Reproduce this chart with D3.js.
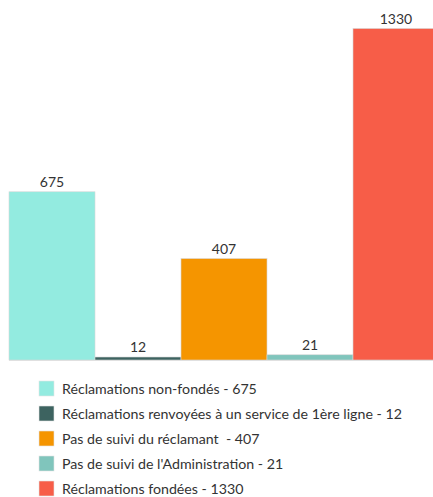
<!DOCTYPE html>
<html>
<head>
<meta charset="utf-8">
<script src="https://cdn.jsdelivr.net/npm/d3@7"></script>
<style>
  body { margin: 0; background: #fff; }
  svg text { font-family: "Source Sans Pro", Lato, "Noto Sans", sans-serif; fill: #333; white-space: pre; }
</style>
</head>
<body>
<svg id="chart" width="433" height="497"></svg>
<script>
// data
let categories = [
    "Réclamations non-fondés",
    "Réclamations renvoyées à un service de 1ère ligne",
    "Pas de suivi du réclamant ",
    "Pas de suivi de l'Administration",
    "Réclamations fondées"
];
let values = [675, 12, 407, 21, 1330];
let colors = ["#93ebe0", "#3d6360", "#f59500", "#80c5bc", "#f75d48"];

let svg = d3.select('#chart');

let baseY = 360;
let x = d3.scaleBand()
    .domain(categories)
    .range([9, 439])
    .padding(0);

let y = d3.scaleLinear()
    .domain([0, 1330])
    .range([baseY, 28.5]);

// bars
svg.append('g').selectAll('rect')
    .data(categories)
    .join('rect')
    .attr('x', d => x(d))
    .attr('y', (d, i) => y(values[i]))
    .attr('width', x.bandwidth())
    .attr('height', (d, i) => baseY - y(values[i]))
    .attr('fill', (d, i) => colors[i])
    .attr('stroke', '#d8d8d8')
    .attr('stroke-width', 0.6);

// baseline
svg.append('line')
    .attr('x1', 9).attr('x2', 433)
    .attr('y1', baseY + 0.5).attr('y2', baseY + 0.5)
    .attr('stroke', '#e0e0e0')
    .attr('stroke-width', 1);

// value labels
svg.append('g').selectAll('text')
    .data(categories)
    .join('text')
    .attr('x', d => x(d) + x.bandwidth() / 2)
    .attr('y', (d, i) => y(values[i]) - 5)
    .attr('text-anchor', 'middle')
    .style('font-size', '14px')
    .text((d, i) => values[i]);

// legend
let legend = svg.append('g').selectAll('g')
    .data(categories)
    .join('g')
    .attr('transform', (d, i) => 'translate(39,' + (381 + i * 25) + ')');

legend.append('rect')
    .attr('width', 15)
    .attr('height', 15)
    .attr('fill', (d, i) => colors[i])
    .attr('stroke', '#e4e4e4')
    .attr('stroke-width', 0.6);

legend.append('text')
    .attr('x', 23)
    .attr('y', 12.5)
    .style('font-size', '14.2px')
    .text((d, i) => d + ' - ' + values[i]);
</script>
</body>
</html>
